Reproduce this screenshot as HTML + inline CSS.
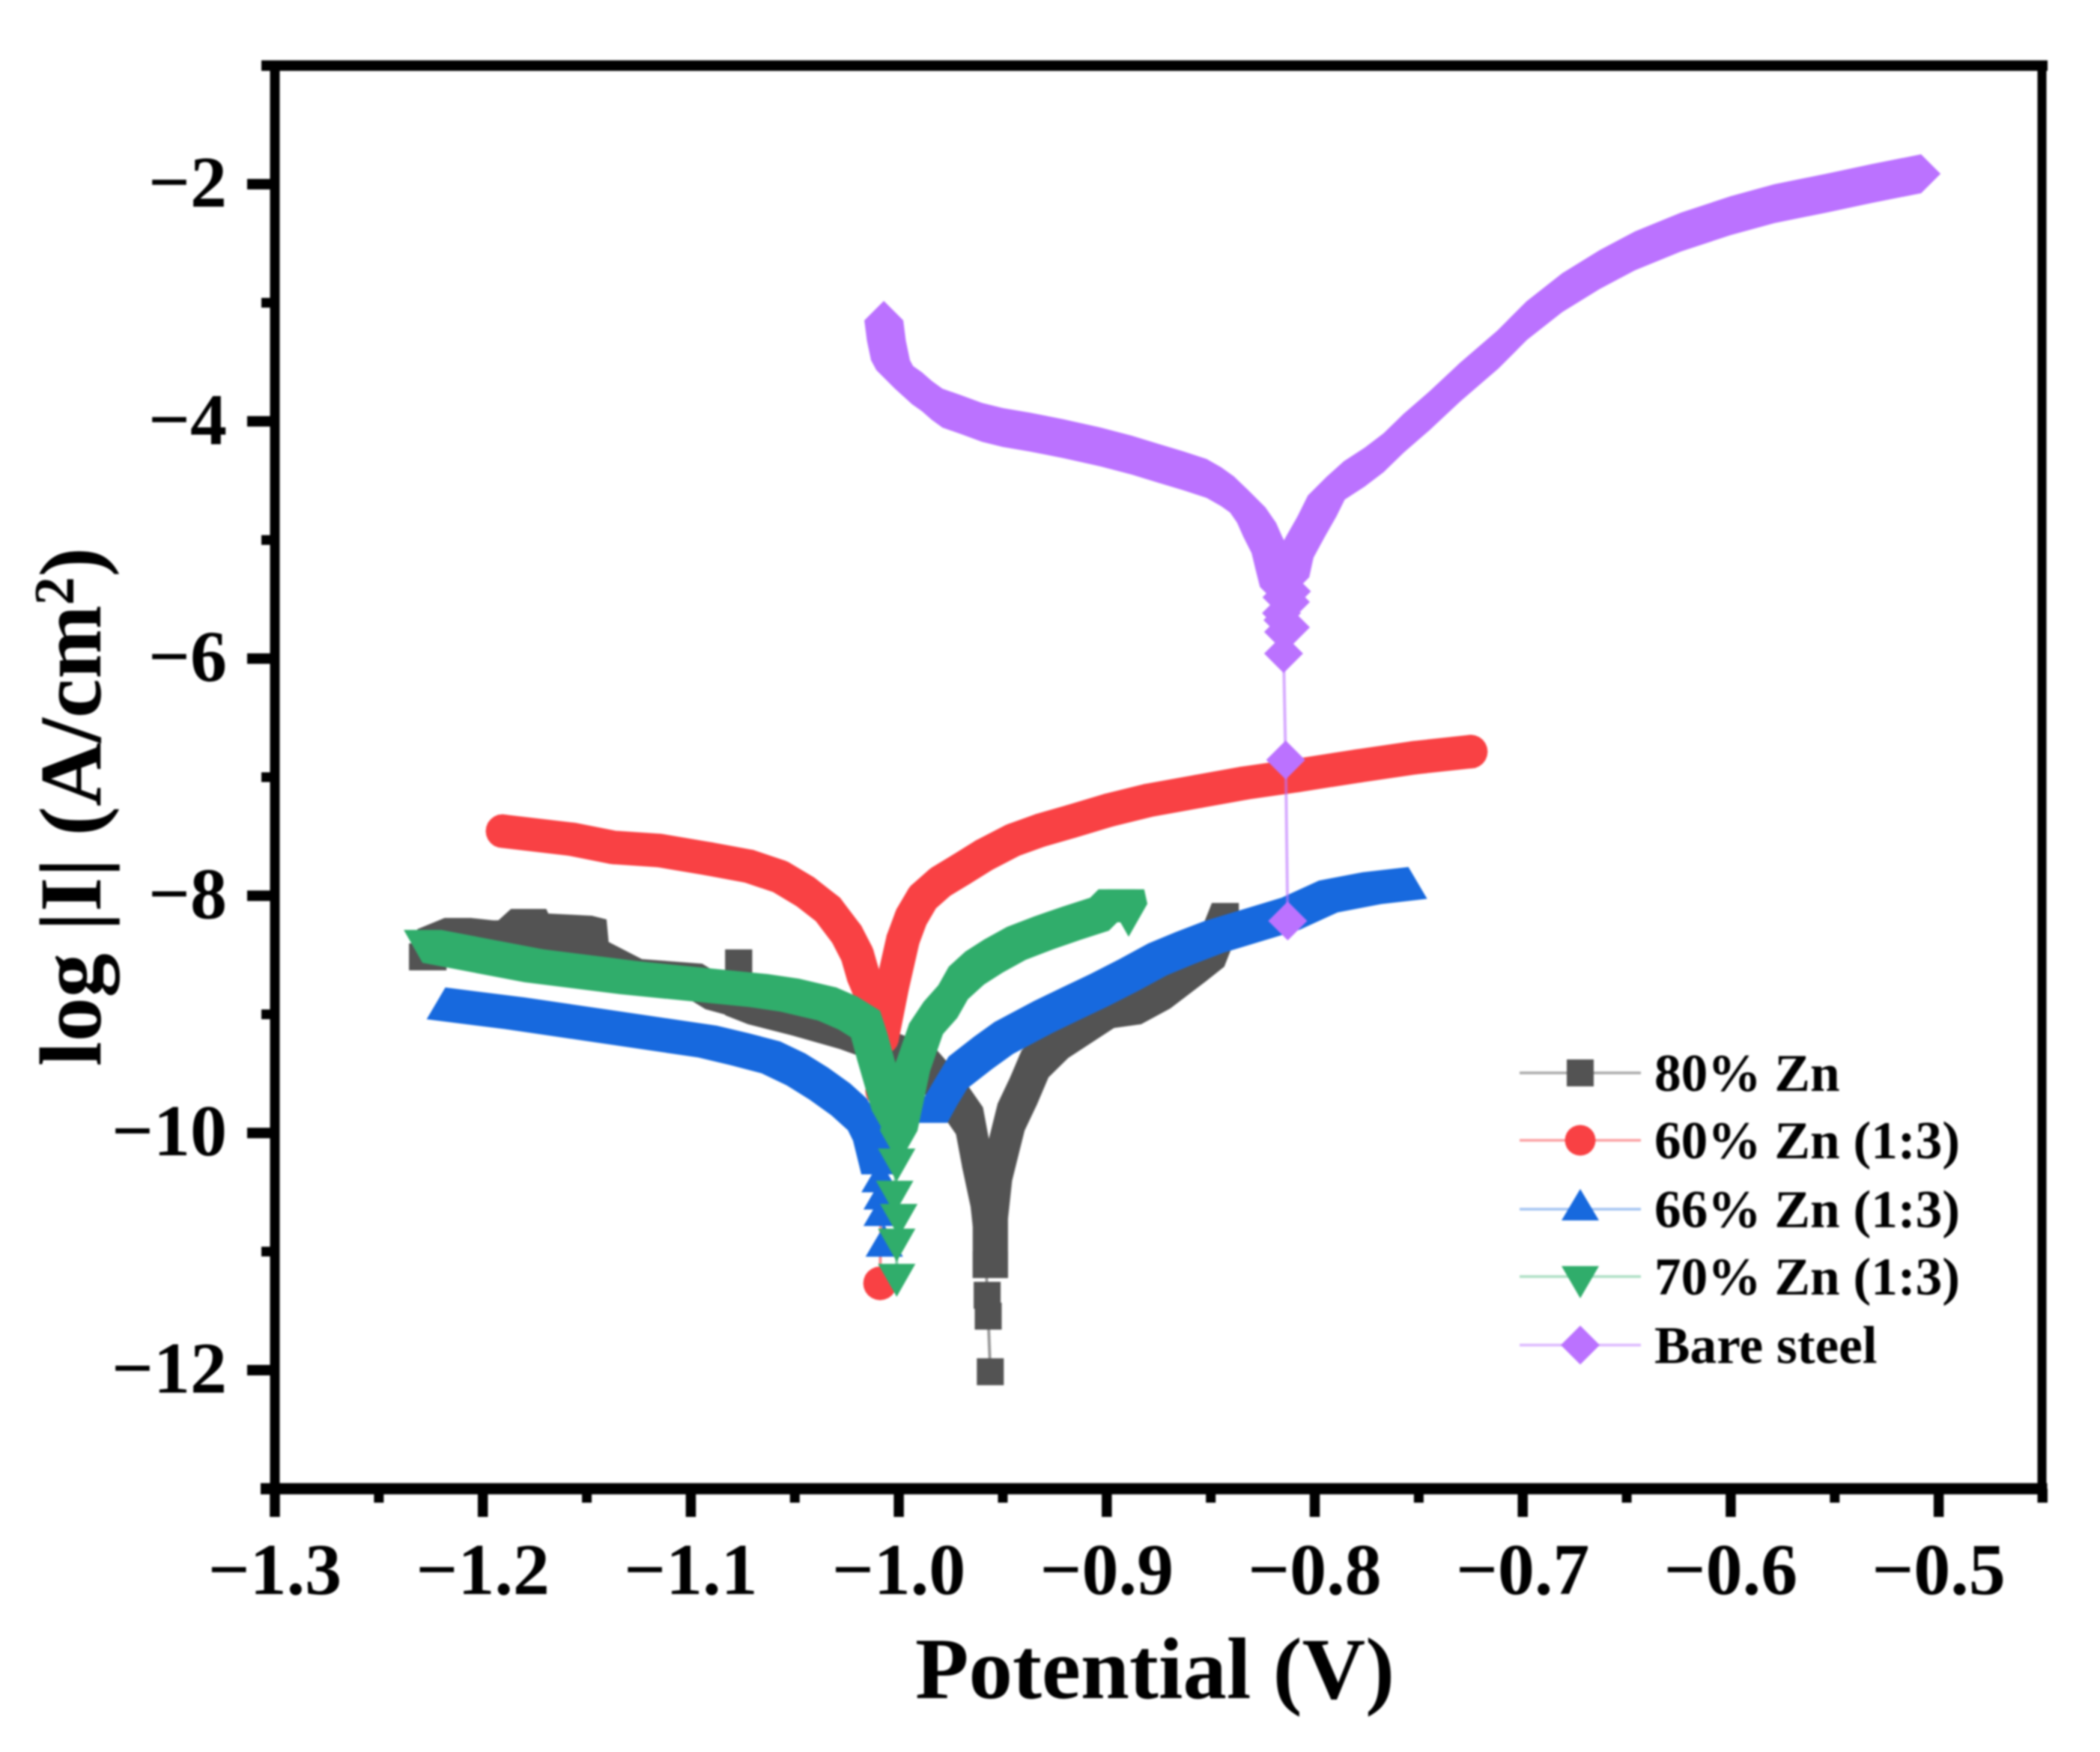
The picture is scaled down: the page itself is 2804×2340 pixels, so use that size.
<!DOCTYPE html>
<html lang="en">
<head>
<meta charset="utf-8">
<title>Potentiodynamic polarization curves</title>
<style>
  html, body { margin: 0; padding: 0; background: #fff; }
  svg { display: block; filter: blur(1.2px); }
  text { font-family: "Liberation Serif", "Times New Roman", serif; font-weight: bold; fill: #000; }
</style>
</head>
<body>
<svg id="chart" xmlns="http://www.w3.org/2000/svg" width="2804" height="2340" viewBox="0 0 2804 2340">
  <rect x="0" y="0" width="2804" height="2340" fill="#ffffff"/>
  <g id="series-layer"></g>
  <g id="axis-layer"></g>
  <text x="1222" y="2268" font-size="117">Potential (V)</text>
  <text transform="translate(134,1424) rotate(-90)" font-size="118">log |I| (A/cm<tspan font-size="76" dy="-36">2</tspan><tspan dy="36">)</tspan></text>
  <g id="legend-layer"></g>
</svg>
<script>
// ---- Axis tick data ----
const xMajorTicks = [-1.3, -1.2, -1.1, -1.0, -0.9, -0.8, -0.7, -0.6, -0.5];
const xMinorTicks = [-1.25, -1.15, -1.05, -0.95, -0.85, -0.75, -0.65, -0.55, -0.45];
const xTickLabels = ['\u22121.3', '\u22121.2', '\u22121.1', '\u22121.0', '\u22120.9', '\u22120.8', '\u22120.7', '\u22120.6', '\u22120.5'];
const yMajorTicks = [-2, -4, -6, -8, -10, -12];
const yMinorTicks = [-1, -3, -5, -7, -9, -11, -13];
const yTickLabels = ['\u22122', '\u22124', '\u22126', '\u22128', '\u221210', '\u221212'];
const legendLabels = ['80% Zn', '60% Zn (1:3)', '66% Zn (1:3)', '70% Zn (1:3)', 'Bare steel'];

// ---- 80% Zn ----
const zn80LeftPotential = [-1.229, -1.224, -1.225, -1.212, -1.199, -1.186, -1.180, -1.176, -1.175, -1.154, -1.154, -1.2017, -1.154, -1.154, -1.147, -1.146, -1.130, -1.101, -1.0865, -1.077, -1.077, -1.077, -1.066, -1.045, -1.022, -1.000, -0.988, -0.973, -0.966, -0.963, -0.959, -0.958, -0.958];
const zn80LeftLogI = [-8.515, -8.515, -8.395, -8.301, -8.326, -8.320, -8.225, -8.225, -8.263, -8.282, -8.427, -8.427, -8.427, -8.282, -8.313, -8.503, -8.648, -8.686, -8.843, -8.888, -8.566, -8.894, -8.970, -9.064, -9.178, -9.317, -9.418, -9.721, -9.898, -10.182, -10.510, -10.674, -11.110];
const zn80TailPotential = [-0.9575, -0.957, -0.956];
const zn80TailLogI = [-11.369, -11.545, -12.013];
const zn80RightPotential = [-0.954, -0.954, -0.952, -0.946, -0.940, -0.9345, -0.925, -0.903, -0.890, -0.876, -0.859, -0.850, -0.847, -0.843];
const zn80RightLogI = [-11.110, -10.611, -10.289, -9.866, -9.645, -9.418, -9.254, -9.001, -8.970, -8.837, -8.610, -8.484, -8.351, -8.174];

// ---- 60% Zn (1:3) ----
const zn60LeftPotential = [-1.1905, -1.157, -1.137, -1.115, -1.0915, -1.072, -1.057, -1.045, -1.034, -1.025, -1.020, -1.017, -1.011, -1.008];
const zn60LeftLogI = [-7.455, -7.524, -7.593, -7.619, -7.688, -7.751, -7.840, -7.966, -8.117, -8.326, -8.496, -8.679, -8.938, -9.197];
const zn60TailPotential = [-1.008, -1.009];
const zn60TailLogI = [-9.645, -11.268];
const zn60RightPotential = [-1.008, -1.003, -0.998, -0.994, -0.9885, -0.980, -0.970, -0.959, -0.945, -0.932, -0.917, -0.899, -0.880, -0.856, -0.834, -0.809, -0.779, -0.752, -0.725];
const zn60RightLogI = [-9.197, -8.755, -8.370, -8.181, -8.016, -7.884, -7.777, -7.657, -7.530, -7.448, -7.372, -7.278, -7.196, -7.120, -7.051, -6.987, -6.905, -6.836, -6.785];

// ---- 66% Zn (1:3) ----
const zn66LeftPotential = [-1.218, -1.180, -1.134, -1.0875, -1.072, -1.057, -1.045, -1.034, -1.0234, -1.0155, -1.013, -1.009];
const zn66LeftLogI = [-8.944, -9.027, -9.146, -9.266, -9.330, -9.399, -9.500, -9.620, -9.753, -9.879, -9.967, -10.251];
const zn66TailPotential = [-1.009, -1.008, -1.008, -1.007];
const zn66TailLogI = [-10.403, -10.548, -10.687, -10.946];
const zn66RightPotential = [-0.9856, -0.981, -0.976, -0.964, -0.954, -0.935, -0.9215, -0.908, -0.894, -0.880, -0.867, -0.853, -0.834, -0.816, -0.798, -0.777, -0.755];
const zn66RightLogI = [-9.816, -9.670, -9.525, -9.361, -9.235, -9.058, -8.944, -8.831, -8.705, -8.572, -8.477, -8.383, -8.282, -8.187, -8.042, -7.972, -7.928];

// ---- 70% Zn (1:3) ----
const zn70LeftPotential = [-1.229, -1.180, -1.134, -1.072, -1.057, -1.039, -1.029, -1.018, -1.0144, -1.011, -1.004];
const zn70LeftLogI = [-8.376, -8.540, -8.641, -8.749, -8.787, -8.862, -8.938, -9.058, -9.254, -9.475, -9.898];
const zn70TailPotential = [-1.001, -1.002, -1.000, -1.001, -1.001];
const zn70TailLogI = [-10.220, -10.491, -10.687, -10.895, -11.192];
const zn70RightPotential = [-1.000, -0.994, -0.986, -0.979, -0.972, -0.967, -0.959, -0.950, -0.939, -0.926, -0.9125, -0.899, -0.895, -0.891, -0.8895];
const zn70RightLogI = [-10.068, -9.569, -9.165, -8.982, -8.843, -8.686, -8.559, -8.458, -8.351, -8.263, -8.181, -8.105, -8.035, -8.035, -8.155];

// ---- Bare steel ----
const bareLeftPotential = [-1.0072, -1.006, -1.004, -1.0015, -0.998, -0.9936, -0.989, -0.984, -0.979, -0.970, -0.960, -0.950, -0.937, -0.921, -0.903, -0.888, -0.875, -0.863, -0.852, -0.845, -0.839, -0.833, -0.828, -0.825, -0.821, -0.819, -0.817];
const bareLeftLogI = [-3.149, -3.319, -3.484, -3.566, -3.622, -3.692, -3.749, -3.825, -3.888, -3.944, -4.008, -4.052, -4.090, -4.146, -4.216, -4.285, -4.355, -4.418, -4.481, -4.551, -4.626, -4.727, -4.854, -4.973, -5.112, -5.258, -5.396];
const bareTailPotential = [-0.8176, -0.8112, -0.8158, -0.8117, -0.816, -0.8153, -0.8117, -0.815, -0.815, -0.814, -0.813];
const bareTailLogI = [-5.362, -5.434, -5.483, -5.523, -5.617, -5.676, -5.737, -5.775, -5.958, -6.855, -8.212];
const bareRightPotential = [-0.812, -0.810, -0.8045, -0.799, -0.794, -0.786, -0.776, -0.767, -0.757, -0.745, -0.730, -0.712, -0.698, -0.681, -0.663, -0.646, -0.624, -0.600, -0.579, -0.554, -0.532, -0.5085];
const bareRightLogI = [-5.314, -5.150, -4.973, -4.803, -4.626, -4.500, -4.386, -4.266, -4.096, -3.913, -3.667, -3.395, -3.149, -2.915, -2.720, -2.562, -2.404, -2.265, -2.164, -2.076, -1.994, -1.912];

// ---- Axis functions ----
const plot = { left: 367, right: 2727.5, top: 87.6, bottom: 1988.4 };
const xDomain = [-1.3, -0.45];
const yDomain = [-1, -13];
function xScale(v) { return plot.left + (v - xDomain[0]) / (xDomain[1] - xDomain[0]) * (plot.right - plot.left); }
function yScale(v) { return plot.top + (v - yDomain[0]) / (yDomain[1] - yDomain[0]) * (plot.bottom - plot.top); }

const SVG_NS = 'http://www.w3.org/2000/svg';
function make(tag, parent, attrs) {
  const el = document.createElementNS(SVG_NS, tag);
  for (const k in attrs) el.setAttribute(k, attrs[k]);
  parent.appendChild(el);
  return el;
}

// ---- Marker shapes: convex outlines relative to the data point ----
function circleShape(r) {
  const pts = [];
  for (let i = 0; i < 24; i++) {
    const t = i / 24 * Math.PI * 2;
    pts.push([r * Math.cos(t), r * Math.sin(t)]);
  }
  return pts;
}
const shapes = {
  square: [[-18, -18], [18, -18], [18, 18], [-18, 18]],
  circle: circleShape(22.5),
  up: [[0, -27], [25, 15.5], [-25, 15.5]],
  down: [[-25, -14], [25, -14], [0, 30]],
  diamond: [[0, -26], [26, 0], [0, 26], [-26, 0]]
};

function hull(points) {
  const p = points.slice().sort((a, b) => a[0] - b[0] || a[1] - b[1]);
  const cross = (o, a, b) => (a[0] - o[0]) * (b[1] - o[1]) - (a[1] - o[1]) * (b[0] - o[0]);
  const lower = [];
  for (const q of p) {
    while (lower.length >= 2 && cross(lower[lower.length - 2], lower[lower.length - 1], q) <= 0) lower.pop();
    lower.push(q);
  }
  const upper = [];
  for (let i = p.length - 1; i >= 0; i--) {
    const q = p[i];
    while (upper.length >= 2 && cross(upper[upper.length - 2], upper[upper.length - 1], q) <= 0) upper.pop();
    upper.push(q);
  }
  lower.pop();
  upper.pop();
  return lower.concat(upper);
}
function polyPath(pts) {
  return 'M' + pts.map(p => p[0].toFixed(1) + ' ' + p[1].toFixed(1)).join('L') + 'Z';
}
function toPixels(xs, ys) {
  return xs.map((x, i) => [xScale(x), yScale(ys[i])]);
}
function sweepPath(pixels, shape) {
  let d = '';
  for (let i = 0; i + 1 < pixels.length; i++) {
    const a = pixels[i];
    const b = pixels[i + 1];
    const verts = shape.map(s => [a[0] + s[0], a[1] + s[1]]).concat(shape.map(s => [b[0] + s[0], b[1] + s[1]]));
    d += polyPath(hull(verts));
  }
  return d;
}
function markerPath(px, shape) {
  return polyPath(shape.map(s => [px[0] + s[0], px[1] + s[1]]));
}

// ---- Series ----
const seriesLayer = document.getElementById('series-layer');

function drawSeries(slug, color, shape, leftX, leftY, tailX, tailY, rightX, rightY) {
  const group = make('g', seriesLayer, {});
  
  

  const left = toPixels(leftX, leftY);
  const tail = toPixels(tailX, tailY);
  const right = toPixels(rightX, rightY);

  const linePts = left.concat(tail);
  const line = make('polyline', group, {
    points: linePts.map(p => p[0].toFixed(1) + ',' + p[1].toFixed(1)).join(' '),
    fill: 'none', stroke: color, 'stroke-width': 4, 'stroke-opacity': 0.6
  });
  
  

  const bodyLeft = make('path', group, { d: sweepPath(left, shape), fill: color, 'fill-rule': 'nonzero' });
  
  

  const bodyRight = make('path', group, { d: sweepPath(right, shape), fill: color, 'fill-rule': 'nonzero' });
  
  

  linePts.concat(right).forEach(px => {
    const m = make('path', group, { d: markerPath(px, shape), fill: color });
    
    
  });
}

drawSeries('80-zn', '#535353', shapes.square, zn80LeftPotential, zn80LeftLogI, zn80TailPotential, zn80TailLogI, zn80RightPotential, zn80RightLogI);
drawSeries('60-zn', '#f94144', shapes.circle, zn60LeftPotential, zn60LeftLogI, zn60TailPotential, zn60TailLogI, zn60RightPotential, zn60RightLogI);
drawSeries('66-zn', '#1769de', shapes.up, zn66LeftPotential, zn66LeftLogI, zn66TailPotential, zn66TailLogI, zn66RightPotential, zn66RightLogI);
drawSeries('70-zn', '#30ad6b', shapes.down, zn70LeftPotential, zn70LeftLogI, zn70TailPotential, zn70TailLogI, zn70RightPotential, zn70RightLogI);
drawSeries('bare-steel', '#bb72ff', shapes.diamond, bareLeftPotential, bareLeftLogI, bareTailPotential, bareTailLogI, bareRightPotential, bareRightLogI);

// ---- Axes ----
const axisLayer = document.getElementById('axis-layer');
const spineColor = '#000000';

const spineTop = make('line', axisLayer, { x1: 349, x2: 2734, y1: plot.top, y2: plot.top, stroke: spineColor, 'stroke-width': 14 });



const spineRight = make('line', axisLayer, { x1: plot.right - 1, x2: plot.right - 1, y1: plot.top, y2: 2007, stroke: spineColor, 'stroke-width': 12 });



const spineLeft = make('line', axisLayer, { x1: plot.left, x2: plot.left, y1: plot.top, y2: 2026, stroke: spineColor, 'stroke-width': 13 });



const spineBottom = make('line', axisLayer, { x1: 348, x2: plot.right + 6, y1: plot.bottom, y2: plot.bottom, stroke: spineColor, 'stroke-width': 15 });



xMajorTicks.forEach((v, i) => {
  const t = make('line', axisLayer, { x1: xScale(v), x2: xScale(v), y1: plot.bottom, y2: 2026, stroke: spineColor, 'stroke-width': 13.5 });
  
  
  const label = make('text', axisLayer, { x: xScale(v), y: 2129, 'font-size': 98, 'text-anchor': 'middle' });
  label.textContent = xTickLabels[i];
  
  
});
xMinorTicks.forEach(v => {
  const t = make('line', axisLayer, { x1: xScale(v), x2: xScale(v), y1: plot.bottom, y2: 2007, stroke: spineColor, 'stroke-width': 13 });
  
  
});
yMajorTicks.forEach((v, i) => {
  const t = make('line', axisLayer, { x1: 330, x2: plot.left, y1: yScale(v), y2: yScale(v), stroke: spineColor, 'stroke-width': 14 });
  
  
  const label = make('text', axisLayer, { x: 303, y: yScale(v) + 30, 'font-size': 98, 'text-anchor': 'end' });
  label.textContent = yTickLabels[i];
  
  
});
yMinorTicks.forEach(v => {
  const t = make('line', axisLayer, { x1: 349, x2: plot.left, y1: yScale(v), y2: yScale(v), stroke: spineColor, 'stroke-width': 13 });
  
  
});

// ---- Legend ----
const legendLayer = document.getElementById('legend-layer');
const legendRows = [1433, 1523, 1615, 1705, 1796.5];
const legendColors = ['#535353', '#f94144', '#1769de', '#30ad6b', '#bb72ff'];
const legendLines = ['#a9a9a9', '#fc9fa1', '#a3c3f2', '#acdfc3', '#dcb8ff'];
const legendShapes = [
  [[-18, -18], [18, -18], [18, 18], [-18, 18]],
  circleShape(20.5),
  [[0, -27], [25, 15], [-25, 15]],
  [[-25, -14], [25, -14], [0, 29]],
  [[0, -26], [26, 0], [0, 26], [-26, 0]]
];
legendLabels.forEach((name, i) => {
  const y = legendRows[i];
  const entry = make('g', legendLayer, {});
  
  

  const ln = make('line', entry, { x1: 2029, x2: 2191, y1: y, y2: y, stroke: legendLines[i], 'stroke-width': 3.5 });
  
  

  const mk = make('path', entry, { d: markerPath([2110, y], legendShapes[i]), fill: legendColors[i] });
  
  

  const tx = make('text', entry, { x: 2209, y: y + 24, 'font-size': 71.3 });
  tx.textContent = name;
  
  
});
</script>
</body>
</html>
